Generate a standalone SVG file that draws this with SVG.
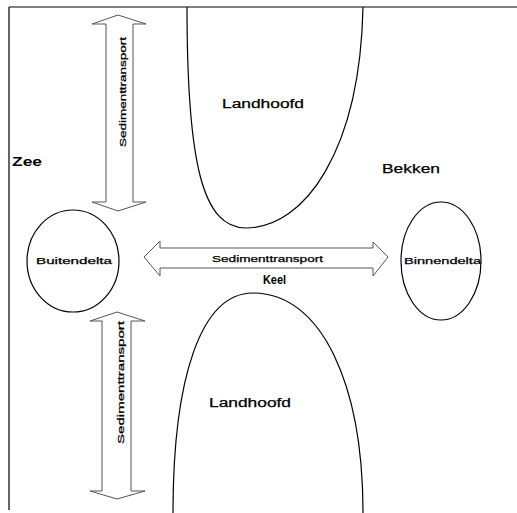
<svg xmlns="http://www.w3.org/2000/svg" width="517" height="513" viewBox="0 0 517 513">
  <style>
    .line { fill: none; stroke: #000; stroke-width: 1.2; }
    .shape { fill: #fff; stroke: #000; stroke-width: 1.2; }
    .arrow { fill: #fff; stroke: #555; stroke-width: 1; stroke-linejoin: miter; }
    .lbl { font-family: "Liberation Sans", Arial, sans-serif; fill: #000; stroke: #000; stroke-width: 0.25; }
    .big { font-size: 12px; }
    .bold { font-weight: bold; stroke-width: 0; }
    .small { font-size: 9px; }
    .tiny { font-size: 8.5px; }
  </style>
  <rect width="517" height="513" fill="#fff"/>

  <!-- coastline frame -->
  <g id="frame">
    <path class="line" d="M9,7 H517 M9,7 V510"/>
  </g>

  <!-- headlands -->
  <g id="landhoofd-noord">
    <path class="line" d="M187,7 C187,165 203,228 246,228 C305,228 360,150 363,7"/>
    <text class="lbl big" x="222" y="108" textLength="82" lengthAdjust="spacingAndGlyphs">Landhoofd</text>
  </g>
  <g id="landhoofd-zuid">
    <path class="line" d="M173,513 C173,380 200,293 253,293 C322,293 363,385 363,513"/>
    <text class="lbl big" x="209" y="407" textLength="82" lengthAdjust="spacingAndGlyphs">Landhoofd</text>
  </g>

  <!-- area labels -->
  <g id="zee">
    <text class="lbl big bold" x="12" y="166" textLength="30" lengthAdjust="spacingAndGlyphs">Zee</text>
  </g>
  <g id="bekken">
    <text class="lbl big" x="382" y="173" textLength="58" lengthAdjust="spacingAndGlyphs">Bekken</text>
  </g>
  <g id="keel">
    <text class="lbl big bold" x="263" y="284" font-size="12.5" textLength="23" lengthAdjust="spacingAndGlyphs">Keel</text>
  </g>

  <!-- deltas -->
  <g id="buitendelta">
    <ellipse class="shape" cx="73" cy="261" rx="46" ry="51"/>
    <text class="lbl small" x="36" y="264" textLength="76" lengthAdjust="spacingAndGlyphs">Buitendelta</text>
  </g>
  <g id="binnendelta">
    <ellipse class="shape" cx="441" cy="261" rx="40" ry="59"/>
    <text class="lbl small" x="404" y="264" textLength="77" lengthAdjust="spacingAndGlyphs">Binnendelta</text>
  </g>

  <!-- sediment transport arrows -->
  <g id="connectors">
    <g id="transport-horizontaal">
      <polygon class="arrow" points="144,257 160,241 160,248 373,248 373,242 388,257 373,276 373,268 160,268 160,276"/>
      <text class="lbl tiny" x="212" y="262" textLength="111" lengthAdjust="spacingAndGlyphs">Sedimenttransport</text>
    </g>
    <g id="transport-noord">
      <polygon class="arrow" points="118,15 146,24 133,24 133,202 146,202 118,211 92,202 106,202 106,24 92,24"/>
      <text class="lbl tiny" transform="translate(126,147) rotate(-90)" x="0" y="0" textLength="110" lengthAdjust="spacingAndGlyphs">Sedimenttransport</text>
    </g>
    <g id="transport-zuid">
      <polygon class="arrow" points="117,312 145,321 131,321 131,491 145,491 117,499 90,491 102,491 102,321 90,321"/>
      <text class="lbl tiny" transform="translate(124,444) rotate(-90)" x="0" y="0" textLength="123" lengthAdjust="spacingAndGlyphs">Sedimenttransport</text>
    </g>
  </g>
</svg>
